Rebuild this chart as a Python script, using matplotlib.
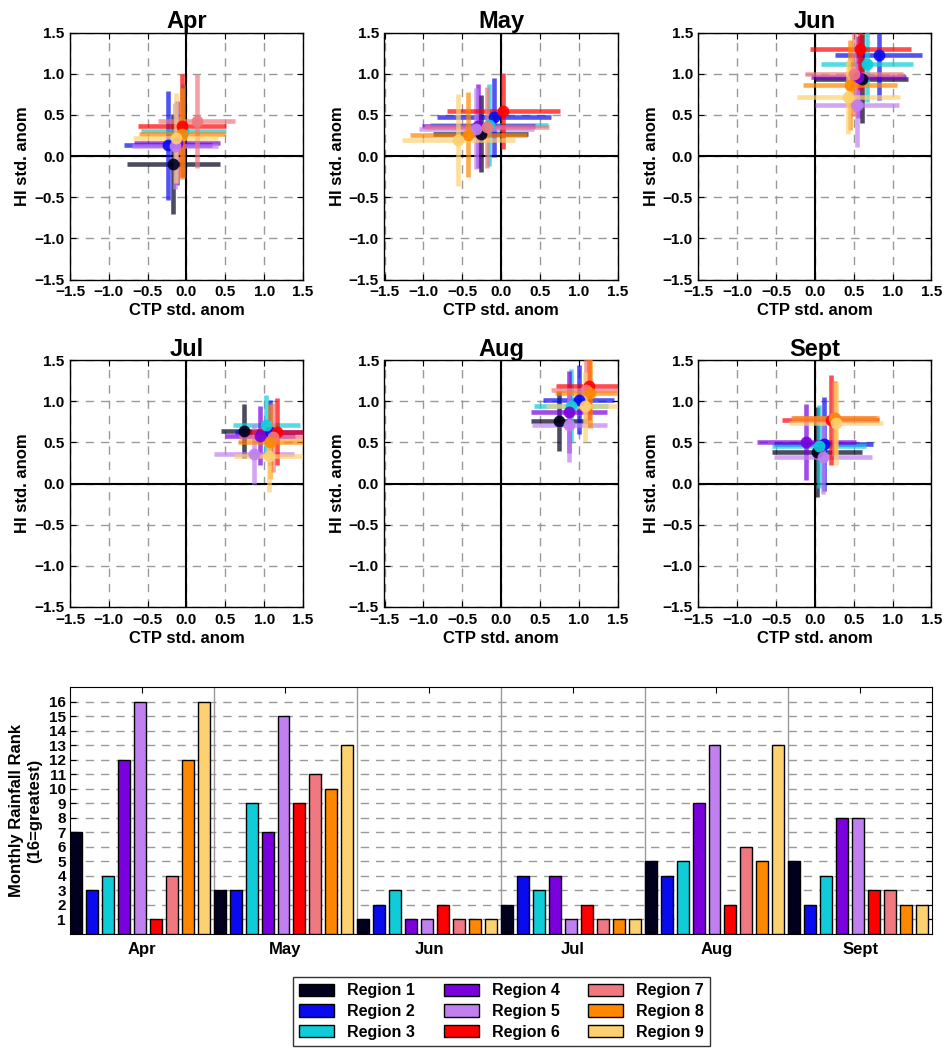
import matplotlib
matplotlib.use("Agg")
import matplotlib.pyplot as plt
from matplotlib.patches import Patch
import numpy as np

plt.rcParams['font.family'] = ['Liberation Sans', 'DejaVu Sans']
plt.rcParams['font.weight'] = 'bold'

regions = ['Region %d' % i for i in range(1, 10)]
colors = ['#00001e', '#0a0aee', '#10ccd8', '#7a00dd', '#c080f0',
          '#ff0000', '#f07880', '#ff8800', '#fdd070']
months = ['Apr', 'May', 'Jun', 'Jul', 'Aug', 'Sept']

# CTP / HI standardized anomalies (region 1..9) with error half-widths
apr_x = [-0.17, -0.24, -0.04, -0.12, -0.15, -0.06, 0.13, -0.06, -0.14]
apr_y = [-0.10, 0.13, 0.30, 0.16, 0.12, 0.37, 0.42, 0.27, 0.22]
apr_xerr = [0.60, 0.57, 0.55, 0.55, 0.55, 0.57, 0.50, 0.55, 0.55]
apr_yerr = [0.61, 0.66, 0.57, 0.51, 0.52, 0.63, 0.57, 0.55, 0.55]

may_x = [-0.26, -0.09, -0.15, -0.29, -0.32, 0.03, -0.18, -0.42, -0.55]
may_y = [0.27, 0.47, 0.38, 0.36, 0.33, 0.55, 0.35, 0.26, 0.19]
may_xerr = [0.61, 0.73, 0.76, 0.73, 0.74, 0.73, 0.80, 0.75, 0.73]
may_yerr = [0.47, 0.48, 0.50, 0.51, 0.49, 0.46, 0.49, 0.52, 0.56]

jun_x = [0.60, 0.82, 0.67, 0.56, 0.54, 0.58, 0.50, 0.45, 0.43]
jun_y = [0.94, 1.23, 1.12, 0.96, 0.62, 1.30, 0.99, 0.86, 0.72]
jun_xerr = [0.60, 0.56, 0.59, 0.61, 0.54, 0.65, 0.63, 0.60, 0.66]
jun_yerr = [0.54, 0.55, 0.46, 0.50, 0.51, 0.50, 0.50, 0.55, 0.45]

jul_x = [0.74, 1.07, 1.03, 0.95, 0.87, 1.17, 1.12, 1.08, 1.06]
jul_y = [0.64, 0.62, 0.71, 0.58, 0.36, 0.63, 0.56, 0.51, 0.33]
jul_xerr = [0.30, 0.45, 0.43, 0.45, 0.52, 0.45, 0.45, 0.42, 0.45]
jul_yerr = [0.33, 0.40, 0.36, 0.36, 0.36, 0.41, 0.42, 0.45, 0.43]

aug_x = [0.75, 1.00, 0.90, 0.87, 0.88, 1.13, 1.10, 1.14, 1.08]
aug_y = [0.76, 1.02, 0.94, 0.87, 0.71, 1.19, 1.14, 1.10, 0.94]
aug_xerr = [0.36, 0.46, 0.48, 0.49, 0.48, 0.42, 0.45, 0.45, 0.50]
aug_yerr = [0.36, 0.42, 0.45, 0.50, 0.45, 0.42, 0.40, 0.42, 0.42]

sep_x = [0.03, 0.11, 0.05, -0.11, 0.10, 0.20, 0.24, 0.26, 0.27]
sep_y = [0.38, 0.48, 0.45, 0.50, 0.32, 0.77, 0.79, 0.80, 0.73]
sep_xerr = [0.58, 0.64, 0.61, 0.64, 0.63, 0.62, 0.55, 0.56, 0.61]
sep_yerr = [0.55, 0.57, 0.50, 0.46, 0.45, 0.55, 0.45, 0.45, 0.50]

# monthly rainfall rank (16 = greatest), region 1..9
rank_apr = [7, 3, 4, 12, 16, 1, 4, 12, 16]
rank_may = [3, 3, 9, 7, 15, 9, 11, 10, 13]
rank_jun = [1, 2, 3, 1, 1, 2, 1, 1, 1]
rank_jul = [2, 4, 3, 4, 1, 2, 1, 1, 1]
rank_aug = [5, 4, 5, 9, 13, 2, 6, 5, 13]
rank_sep = [5, 2, 4, 8, 8, 3, 3, 2, 2]

scatter_data = [
    (apr_x, apr_y, apr_xerr, apr_yerr),
    (may_x, may_y, may_xerr, may_yerr),
    (jun_x, jun_y, jun_xerr, jun_yerr),
    (jul_x, jul_y, jul_xerr, jul_yerr),
    (aug_x, aug_y, aug_xerr, aug_yerr),
    (sep_x, sep_y, sep_xerr, sep_yerr),
]
ranks = [rank_apr, rank_may, rank_jun, rank_jul, rank_aug, rank_sep]

W, H = 945, 1050
fig = plt.figure(figsize=(W / 100, H / 100), dpi=100)


def px_axes(left, top, width, height):
    return fig.add_axes([left / W, 1 - (top + height) / H, width / W, height / H])


lefts = [70, 384.5, 698.5]
tops = [32.5, 360]
ticks = np.arange(-1.5, 1.51, 0.5)
tick_text = [('%.1f' % t).replace('-', '\u2212') for t in ticks]

for k, (xs, ys, xe, ye) in enumerate(scatter_data):
    ax = px_axes(lefts[k % 3], tops[k // 3], 233, 247)
    ax.set_xlim(-1.5, 1.5)
    ax.set_ylim(-1.5, 1.5)
    ax.set_xticks(ticks)
    ax.set_yticks(ticks)
    ax.set_xticklabels(tick_text)
    ax.set_yticklabels(tick_text)
    ax.tick_params(direction='in', length=4, labelsize=11, top=True, right=True, pad=4)
    ax.grid(True, linestyle=(0, (6, 5)), color='#999999', linewidth=1)
    ax.axhline(0, color='black', linewidth=1.5, zorder=2.7)
    ax.axvline(0, color='black', linewidth=1.5, zorder=2.7)
    for i in range(9):
        ax.errorbar(xs[i], ys[i], xerr=xe[i], yerr=ye[i], fmt='none',
                    ecolor=colors[i], elinewidth=3.3, capsize=0, alpha=0.7, zorder=3)
        ax.plot(xs[i], ys[i], 'o', color=colors[i], markersize=8.5,
                markeredgewidth=0, alpha=0.9, zorder=4)
    ax.set_title(months[k], fontsize=17, fontweight='bold', pad=3)
    ax.set_xlabel('CTP std. anom', fontsize=12, fontweight='bold', labelpad=3)
    ax.set_ylabel('HI std. anom', fontsize=12, fontweight='bold', labelpad=3)
    for s in ax.spines.values():
        s.set_linewidth(1)

# bar chart of rainfall ranks
bx = px_axes(70, 687, 862, 247)
for g, r in enumerate(ranks):
    pos = np.arange(9) + 9 * g
    bx.bar(pos, r, width=0.75, align='edge', color=colors,
           edgecolor='black', linewidth=1, zorder=3)
for g in range(1, 6):
    bx.axvline(9 * g, color='#999999', linewidth=1, zorder=2)
bx.set_xlim(0, 54)
bx.set_ylim(0, 17)
bx.set_yticks(range(1, 17))
bx.set_xticks(np.arange(6) * 9 + 4.5)
bx.set_xticklabels(months, fontsize=12, fontweight='bold')
bx.tick_params(axis='y', labelsize=11, pad=3)
bx.tick_params(axis='x', pad=6)
bx.tick_params(direction='in', length=4, top=True, right=True)
bx.yaxis.grid(True, linestyle=(0, (6, 5)), color='#999999', linewidth=1, zorder=0)
bx.set_axisbelow(True)
bx.set_ylabel('Monthly Rainfall Rank\n(16=greatest)', fontsize=12,
              fontweight='bold', labelpad=5)

handles = [Patch(facecolor=c, edgecolor='black', linewidth=1) for c in colors]
fig.legend(handles, regions, ncol=3, loc='center',
           bbox_to_anchor=(501.5 / W, 1 - 1011.5 / H),
           prop={'size': 11.5, 'weight': 'bold'}, frameon=True, fancybox=False,
           edgecolor='black', handlelength=2.2, handleheight=0.8,
           labelspacing=0.35, columnspacing=1.8, borderpad=0.4)

fig.savefig('out.png', dpi=100)
plt.close(fig)
